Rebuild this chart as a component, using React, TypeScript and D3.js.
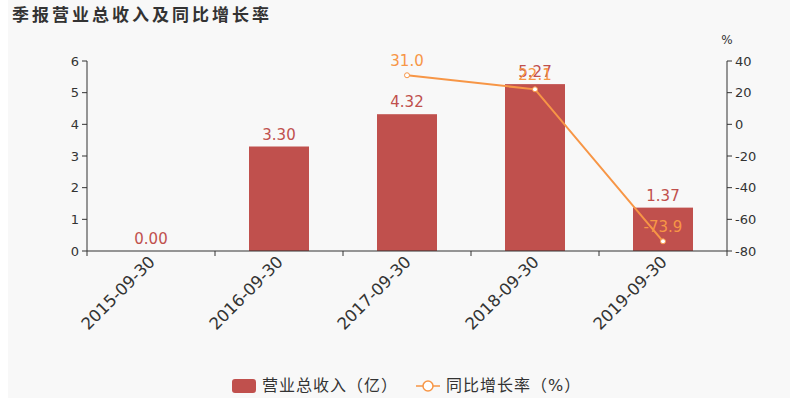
import React from "react";
import * as d3 from "d3";

const categories = ["2015-09-30", "2016-09-30", "2017-09-30", "2018-09-30", "2019-09-30"];
const revenue = [0.0, 3.3, 4.32, 5.27, 1.37];
const growth: (number | null)[] = [null, null, 31.0, 22.1, -73.9];
const leftTicks = [0, 1, 2, 3, 4, 5, 6];
const rightTicks = [-80, -60, -40, -20, 0, 20, 40];

const W = 795, H = 398;
const left = 87, right = 727, top = 61, bottom = 251;
const font = "'DejaVu Sans', 'Noto Sans CJK SC', sans-serif";

export default function App() {
  const x = d3.scaleBand().domain(categories).range([left, right]);
  const yL = d3.scaleLinear().domain([0, 6]).range([bottom, top]);
  const yR = d3.scaleLinear().domain([-80, 40]).range([bottom, top]);
  const barW = 60;
  const pts = categories
    .map((c, i) => ({ c, v: growth[i] }))
    .filter((d) => d.v !== null) as { c: string; v: number }[];
  const line = d3
    .line<{ c: string; v: number }>()
    .x((d) => x(d.c)! + x.bandwidth() / 2)
    .y((d) => yR(d.v));
  const barColor = "#c0504d";
  const lineColor = "#f79646";
  return (
    <svg width={W} height={H} style={{ position: "absolute", left: 0, top: 0 }} fontFamily={font}>
      <rect x={0} y={0} width={W} height={H} fill="#ffffff" />
      <rect x={8} y={0} width={782} height={H} fill="#f8f8f8" />
      <text x={12} y={21} fontSize={17} fontWeight="bold" letterSpacing={3} fill="#333">季报营业总收入及同比增长率</text>
      {/* bars */}
      {categories.map((c, i) => (
        <rect key={c} x={x(c)! + x.bandwidth() / 2 - barW / 2} y={yL(revenue[i])} width={barW}
          height={bottom - yL(revenue[i])} fill={barColor} />
      ))}
      {/* left axis */}
      <line x1={left} x2={left} y1={top} y2={bottom} stroke="#333" />
      {leftTicks.map((t) => (
        <g key={t}>
          <line x1={left - 5} x2={left} y1={yL(t)} y2={yL(t)} stroke="#333" />
          <text x={left - 8} y={yL(t) + 4.5} fontSize={13} textAnchor="end" fill="#333">{t}</text>
        </g>
      ))}
      {/* right axis */}
      <line x1={right} x2={right} y1={top} y2={bottom} stroke="#333" />
      {rightTicks.map((t) => (
        <g key={t}>
          <line x1={right} x2={right + 5} y1={yR(t)} y2={yR(t)} stroke="#333" />
          <text x={right + 8} y={yR(t) + 4.5} fontSize={13} textAnchor="start" fill="#333">{t}</text>
        </g>
      ))}
      <text x={727} y={44} fontSize={12} textAnchor="middle" fill="#333">%</text>
      {/* x axis */}
      <line x1={left} x2={right} y1={bottom} y2={bottom} stroke="#333" />
      {[...categories.map((c) => x(c)!), right].map((p, i) => (
        <line key={i} x1={p} x2={p} y1={bottom} y2={bottom + 5} stroke="#333" />
      ))}
      {categories.map((c) => {
        const cx = x(c)! + x.bandwidth() / 2;
        return (
          <text key={c} transform={`translate(${cx + 5},${bottom + 12}) rotate(-45)`} fontSize={16.5}
            textAnchor="end" fill="#333">{c}</text>
        );
      })}
      {/* bar labels */}
      {categories.map((c, i) => (
        <text key={c} x={x(c)! + x.bandwidth() / 2} y={yL(revenue[i]) - 7} fontSize={15}
          textAnchor="middle" fill={barColor}>{revenue[i].toFixed(2)}</text>
      ))}
      {/* line */}
      <path d={line(pts) || ""} fill="none" stroke={lineColor} strokeWidth={2} />
      {pts.map((d) => (
        <g key={d.c}>
          <circle cx={x(d.c)! + x.bandwidth() / 2} cy={yR(d.v)} r={2.5} fill="#fff" stroke={lineColor} strokeWidth={1} />
          <text x={x(d.c)! + x.bandwidth() / 2} y={yR(d.v) - 9} fontSize={15} textAnchor="middle"
            fill={lineColor}>{d.v.toFixed(1)}</text>
        </g>
      ))}
      {/* legend */}
      <rect x={232} y={379} width={24} height={14} rx={3} fill={barColor} />
      <text x={262} y={391} fontSize={16} letterSpacing={1} fill="#333">营业总收入（亿）</text>
      <line x1={416} x2={440} y1={386} y2={386} stroke={lineColor} strokeWidth={1.5} />
      <circle cx={428} cy={386} r={5} fill="#fff" stroke={lineColor} strokeWidth={1.5} />
      <text x={446} y={391} fontSize={16} letterSpacing={1} fill="#333">同比增长率（%）</text>
    </svg>
  );
}
